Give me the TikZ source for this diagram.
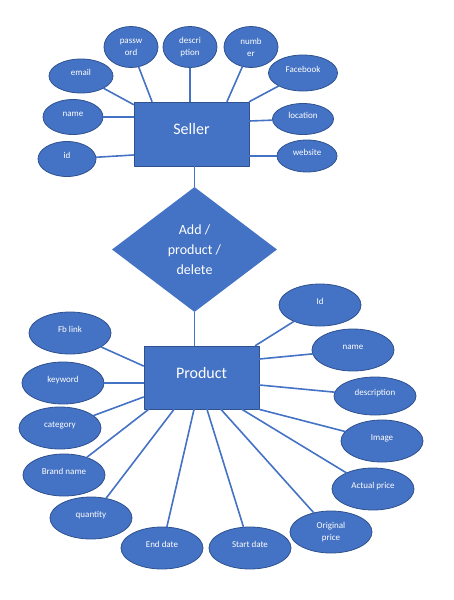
\documentclass[tikz,border=0pt]{standalone}
\usepackage{fontspec}
\setmainfont{Carlito}
\usetikzlibrary{shapes.geometric}
\definecolor{erblue}{HTML}{4472C4}
\definecolor{erborder}{HTML}{2F528F}
\begin{document}
\begin{tikzpicture}[x=1pt,y=-1pt,line cap=round,line join=round,
	oval/.style={ellipse, draw=erborder, fill=erblue, line width=0.8pt, text=white,
		inner sep=0pt, align=center, font=\fontsize{9}{12}\selectfont},
	attr/.style={oval, text height=7pt, text depth=7.6pt},
	pattr/.style={attr, minimum width=82pt, minimum height=42pt},
	entity/.style={rectangle, draw=erborder, fill=erblue, line width=0.8pt, text=white,
		minimum width=115pt, minimum height=64pt, text height=12pt, text depth=10pt,
		font=\fontsize{16}{19}\selectfont},
	relation/.style={diamond, fill=erblue, text=white, inner sep=0pt, align=center,
		minimum width=165pt, minimum height=125pt, font=\fontsize{14}{20}\selectfont},
	link/.style={draw=erblue, line width=1.6pt}]
	\useasboundingbox (0,0) rectangle (454,600);
	
	% seller side
	\node[entity, text depth=12pt] (seller) at (191.5,134) {Seller};
	\node[oval, minimum width=54pt, minimum height=41pt] (spass) at (131,47) {passw\\ord};
	\node[oval, minimum width=54pt, minimum height=41pt] (sdesc) at (190,47) {descri\\ption};
	\node[oval, minimum width=54pt, minimum height=41pt] (snum) at (251,47) {numb\\er};
	\node[attr, minimum width=64pt, minimum height=34pt] (semail) at (81,76) {email};
	\node[attr, minimum width=69pt, minimum height=36pt] (sfb) at (303,73) {Facebook};
	\node[attr, minimum width=60pt, minimum height=35pt] (sname) at (73,117) {name};
	\node[attr, minimum width=61pt, minimum height=31pt] (sloc) at (303,119) {location};
	\node[attr, minimum width=58pt, minimum height=35pt] (sid) at (67,159) {id};
	\node[attr, minimum width=60pt, minimum height=32pt] (sweb) at (307,156) {website};
	
	\path[link] (spass) -- ([xshift=-39.5pt]seller.north);
	\path[link] (sdesc) -- (sdesc |- seller.north);
	\path[link] (snum) -- ([xshift=35.5pt]seller.north);
	\path[link] (semail) -- ([yshift=-3pt]seller.north west);
	\path[link] (sfb) -- (seller.north east);
	\path[link] (sname) -- (sname -| seller.west);
	\path[link] (sloc) -- ([yshift=13pt]seller.east);
	\path[link] (sid) -- ([yshift=-21pt]seller.west);
	\path[link] (sweb) -- (sweb -| seller.east);
	
	% relation
	\node[relation] (addrel) at (194.5,249.5) {Add /\\product /\\delete};
	\node[entity, minimum height=63pt] (product) at (201.5,377.5) {Product};
	\path[link] (addrel.north) -- (addrel.north |- seller.south);
	\path[link] (addrel.south) -- (addrel.south |- product.north);
	
	% product side
	\node[pattr] (pid) at (320,305) {Id};
	\node[pattr] (pname) at (353,350) {name};
	\node[pattr, minimum height=38pt] (pdesc) at (375,396) {description};
	\node[pattr] (pimg) at (382,441) {Image};
	\node[pattr] (pactual) at (373,489) {Actual price};
	\node[oval, minimum width=82pt, minimum height=42pt] (porig) at (331,532) {Original\\price};
	\node[pattr] (pstart) at (250,548) {Start date};
	\node[pattr] (pend) at (162,548) {End date};
	\node[pattr] (pqty) at (91,518) {quantity};
	\node[pattr] (pbrand) at (64,475) {Brand name};
	\node[pattr] (pcat) at (60,428) {category};
	\node[pattr] (pkey) at (63,383) {keyword};
	\node[pattr] (pfb) at (70,333) {Fb link};
	
	\path[link] (pid) -- ([xshift=-4pt]product.north east);
	\path[link] (pname) -- ([yshift=18.5pt]product.east);
	\path[link] (pdesc) -- ([yshift=-7.5pt]product.east);
	\path[link] (pimg) -- (product.south east);
	\path[link] (pactual) -- ([xshift=40.5pt]product.south);
	\path[link] (porig) -- ([xshift=19.5pt]product.south);
	\path[link] (pstart) -- ([xshift=5.5pt]product.south);
	\path[link] (pend) -- ([xshift=-7.5pt]product.south);
	\path[link] (pqty) -- ([xshift=-27.5pt]product.south);
	\path[link] (pbrand) -- ([xshift=5pt]product.south west);
	\path[link] (pcat) -- ([yshift=-19.5pt]product.west);
	\path[link] (pkey) -- (pkey -| product.west);
	\path[link] (pfb) -- ([yshift=11.5pt]product.west);
\end{tikzpicture}
\end{document}
